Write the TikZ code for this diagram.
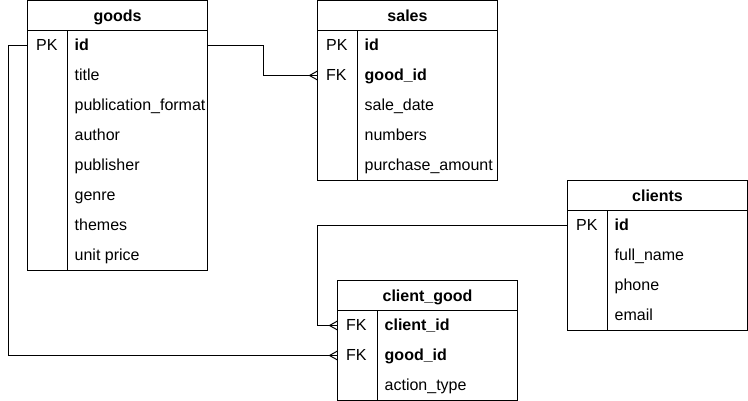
\documentclass[tikz,border=0pt]{standalone}
\usepackage{fontspec}
\setmainfont{Liberation Sans}
\begin{document}
\begin{tikzpicture}[x=1pt,y=-1pt,
  every node/.style={font=\fontsize{16}{19}\selectfont},
  ln/.style={draw=black,line width=1pt},
  tblbox/.style={ln,fill=white,minimum width=180pt,inner sep=0pt,outer sep=0pt},
  hdrtxt/.style={anchor=base,inner sep=0pt,font=\fontsize{16}{19}\selectfont\bfseries},
  rowbox/.style={minimum width=180pt,minimum height=30pt,inner sep=0pt,outer sep=0pt},
  keytxt/.style={anchor=base west,inner sep=0pt},
  nametxt/.style={anchor=base west,inner sep=0pt},
  conn/.style={ln}
]
\useasboundingbox (0,0) rectangle (748,401);
\newcommand{\erbox}[5]{%
  \node[tblbox,minimum height={30*(#5+1)},anchor=north west] (#1) at (#2,#3) {};
  \node[hdrtxt] (#1-h) at ([yshift=-21pt]#1.north) {#4};
  \draw[ln] ([yshift=-30pt]#1.north west) -- ([yshift=-30pt]#1.north east);
  \draw[ln] ([xshift=40pt,yshift=-30pt]#1.north west) -- ([xshift=40pt]#1.south west);
}
\newcommand{\errow}[5]{%
  \node[rowbox,anchor=north west] (#1-#5) at ([yshift={-30-30*#2}]#1.north west) {};
  \node[keytxt] (#1-#5-k) at ([xshift=8.5pt,yshift=-5pt]#1-#5.west) {#3};
  \node[nametxt] (#1-#5-n) at ([xshift=47pt,yshift=-5pt]#1-#5.west) {#4};
}
\newcommand{\crowfoot}[1]{%
  \draw[ln] ([xshift=-8pt]#1.west) -- ([yshift=4.5pt]#1.west);
  \draw[ln] ([xshift=-8pt]#1.west) -- ([yshift=-4.5pt]#1.west);
}
% goods
\erbox{goods}{27.5}{0.5}{goods}{8}
\errow{goods}{0}{PK}{\textbf{id}}{id}
\errow{goods}{1}{}{title}{title}
\errow{goods}{2}{}{publication\_format}{pf}
\errow{goods}{3}{}{author}{author}
\errow{goods}{4}{}{publisher}{publisher}
\errow{goods}{5}{}{genre}{genre}
\errow{goods}{6}{}{themes}{themes}
\errow{goods}{7}{}{unit price}{price}
% sales
\erbox{sales}{317.5}{0.5}{sales}{5}
\errow{sales}{0}{PK}{\textbf{id}}{id}
\errow{sales}{1}{FK}{\textbf{good\_id}}{gid}
\errow{sales}{2}{}{sale\_date}{date}
\errow{sales}{3}{}{numbers}{num}
\errow{sales}{4}{}{purchase\_amount}{amount}
% clients
\erbox{clients}{567.5}{180.5}{clients}{4}
\errow{clients}{0}{PK}{\textbf{id}}{id}
\errow{clients}{1}{}{full\_name}{name}
\errow{clients}{2}{}{phone}{phone}
\errow{clients}{3}{}{email}{email}
% client_good
\erbox{cg}{337.5}{280.5}{client\_good}{3}
\errow{cg}{0}{FK}{\textbf{client\_id}}{cid}
\errow{cg}{1}{FK}{\textbf{good\_id}}{gid}
\errow{cg}{2}{}{action\_type}{type}
% connectors
\draw[conn] (goods-id.east) -- ++(55.5,0) |- (sales-gid.west);
\crowfoot{sales-gid}
\draw[conn] (goods-id.west) -- ++(-19.5,0) |- (cg-gid.west);
\crowfoot{cg-gid}
\draw[conn] (clients-id.west) -- ++(-250,0) |- (cg-cid.west);
\crowfoot{cg-cid}
\end{tikzpicture}
\end{document}
